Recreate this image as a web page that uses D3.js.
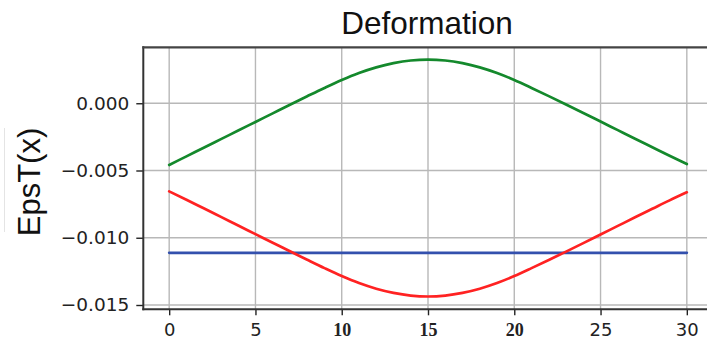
<!DOCTYPE html>
<html>
<head>
<meta charset="utf-8">
<script src="https://cdn.jsdelivr.net/npm/d3@7"></script>
<style>
  html, body { margin: 0; padding: 0; background: #fff; }
  svg { display: block; }
</style>
</head>
<body>
<svg id="chart" width="707" height="340"></svg>
<script>
// ---- data ----
const xValues = [0,1,2,3,4,5,6,7,8,9,10,11,12,13,14,15,16,17,18,19,20,21,22,23,24,25,26,27,28,29,30];
const greenValues = [-0.00459,-0.00395,-0.00331,-0.00267,-0.00203,-0.00139,-0.00075,-0.00011,0.00052,0.00114,0.00173,0.00225,0.00267,0.00298,0.00318,0.00325,0.00318,0.00298,0.00267,0.00225,0.00173,0.00114,0.00053,-0.00009,-0.00072,-0.00136,-0.00200,-0.00264,-0.00327,-0.00390,-0.00452];
const redValues = [-0.00655,-0.00717,-0.00781,-0.00845,-0.00909,-0.00973,-0.01037,-0.01101,-0.01164,-0.01226,-0.01285,-0.01337,-0.01379,-0.01410,-0.01430,-0.01437,-0.01430,-0.01410,-0.01379,-0.01337,-0.01285,-0.01226,-0.01165,-0.01103,-0.01040,-0.00976,-0.00912,-0.00848,-0.00785,-0.00722,-0.00662];
const blueValues = [-0.01112,-0.01112,-0.01112,-0.01112,-0.01112,-0.01112,-0.01112,-0.01112,-0.01112,-0.01112,-0.01112,-0.01112,-0.01112,-0.01112,-0.01112,-0.01112,-0.01112,-0.01112,-0.01112,-0.01112,-0.01112,-0.01112,-0.01112,-0.01112,-0.01112,-0.01112,-0.01112,-0.01112,-0.01112,-0.01112,-0.01112];
const xTicks = [0,5,10,15,20,25,30];
const xTickLabels = ["0","5","10","15","20","25","30"];
const yTicks = [0.000,-0.005,-0.010,-0.015];
const yTickLabels = ["0.000","\u22120.005","\u22120.010","\u22120.015"];
const titleText = "Deformation";
const yLabelText = "EpsT(x)";

(function () {
// ---- layout ----
const svg = d3.select("#chart");
const pLeft = 143.3, pTop = 47.3, pRight = 712.7, pBottom = 309.3;

const x = d3.scaleLinear().domain([-1.5, 31.5]).range([pLeft, pRight]);
const y = d3.scaleLinear().domain([-0.01532, 0.00416]).range([pBottom, pTop]);

const clipId = "plotclip";
svg.append("defs").append("clipPath").attr("id", clipId)
  .append("rect").attr("x", pLeft).attr("y", pTop).attr("width", pRight-pLeft).attr("height", pBottom-pTop);

// grid
const grid = svg.append("g");
grid.selectAll("line.vx").data(xTicks).join("line").attr("class","vx")
  .attr("x1", d => x(d)).attr("x2", d => x(d))
  .attr("y1", pTop).attr("y2", pBottom)
  .attr("stroke", "#b8b8b8").attr("stroke-width", 1.4);
grid.selectAll("line.hy").data(yTicks).join("line").attr("class","hy")
  .attr("x1", pLeft).attr("x2", pRight)
  .attr("y1", d => y(d)).attr("y2", d => y(d))
  .attr("stroke", "#b8b8b8").attr("stroke-width", 1.4);

// lines
const lineGen = vals => d3.line().x((d,i) => x(xValues[i])).y(d => y(d)).curve(d3.curveMonotoneX)(vals);
const plot = svg.append("g").attr("clip-path", `url(#${clipId})`);
const series = [
  {vals: blueValues, color: "#3350ad"},
  {vals: redValues, color: "#ff2222"},
  {vals: greenValues, color: "#14892c"}
];
series.forEach(s => {
  plot.append("path").attr("d", lineGen(s.vals))
    .attr("fill", "none").attr("stroke", s.color)
    .attr("stroke-width", 2.7).attr("stroke-linecap", "round").attr("stroke-linejoin", "round");
});

// axes
const isBold = d => (d === 10 || d === 15 || d === 20);
const xAxis = d3.axisBottom(x).tickValues(xTicks).tickSize(6).tickFormat((d,i) => xTickLabels[i]);
const gx = svg.append("g").attr("transform", `translate(0,${pBottom})`).call(xAxis);
gx.select(".domain").remove();
gx.selectAll(".tick line").attr("stroke", "#222").attr("stroke-width", 1.4);
gx.selectAll(".tick text")
  .attr("y", 14)
  .attr("fill", "#222")
  .style("font-family", d => isBold(d) ? "'Liberation Serif', 'Times New Roman', serif" : "'DejaVu Sans', sans-serif")
  .style("font-weight", d => isBold(d) ? "bold" : "normal")
  .style("font-size", d => isBold(d) ? "18px" : "18px");

const yAxis = d3.axisLeft(y).tickValues(yTicks).tickSize(7).tickFormat((d,i) => yTickLabels[i]);
const gy = svg.append("g").attr("transform", `translate(${pLeft},0)`).call(yAxis);
gy.select(".domain").remove();
gy.selectAll(".tick line").attr("stroke", "#222").attr("stroke-width", 1.4);
gy.selectAll(".tick text")
  .attr("x", -14)
  .attr("fill", "#222")
  .style("font-family", "'DejaVu Sans', sans-serif")
  .style("font-size", "18.5px");

// spines
svg.append("line").attr("x1", pLeft).attr("x2", pLeft).attr("y1", pTop - 1).attr("y2", pBottom + 1)
  .attr("stroke", "#333").attr("stroke-width", 2);
svg.append("line").attr("x1", pLeft - 1).attr("x2", pRight).attr("y1", pBottom).attr("y2", pBottom)
  .attr("stroke", "#333").attr("stroke-width", 2);
svg.append("line").attr("x1", pLeft - 1).attr("x2", pRight).attr("y1", pTop).attr("y2", pTop)
  .attr("stroke", "#444").attr("stroke-width", 2.2);

// title
svg.append("text").attr("x", (pLeft + pRight) / 2 - 1).attr("y", 34)
  .attr("text-anchor", "middle")
  .style("font-family", "'Liberation Sans', Arial, sans-serif")
  .style("font-size", "31.5px")
  .attr("fill", "#111")
  .text(titleText);

// faint artifact line left of y label
svg.append("line").attr("x1", 4.5).attr("x2", 4.5).attr("y1", 128).attr("y2", 232)
  .attr("stroke", "#e4e4e4").attr("stroke-width", 1);

// y label
svg.append("text")
  .attr("transform", "translate(40,182) rotate(-90)")
  .attr("text-anchor", "middle")
  .style("font-family", "'Liberation Sans', Arial, sans-serif")
  .style("font-size", "31px")
  .attr("fill", "#111")
  .text(yLabelText);
})();
</script>
</body>
</html>
